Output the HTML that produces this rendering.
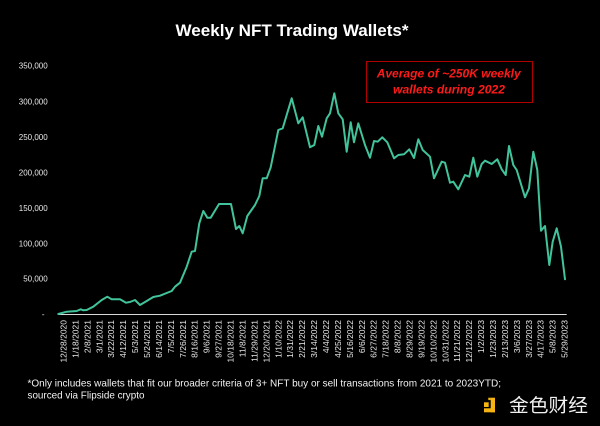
<!DOCTYPE html>
<html>
<head>
<meta charset="utf-8">
<style>
  html, body { margin:0; padding:0; background:#000; }
  body { width:600px; height:426px; overflow:hidden; }
  svg { display:block; }
  text { font-family: "Liberation Sans", "Noto Sans CJK SC", sans-serif; }
</style>
</head>
<body>
<svg width="600" height="426" viewBox="0 0 600 426" xmlns="http://www.w3.org/2000/svg">
  <rect x="0" y="0" width="600" height="426" fill="#000"/>

  <!-- Title -->
  <text x="292" y="36" fill="#fff" font-size="16.5" font-weight="bold" text-anchor="middle" textLength="233" lengthAdjust="spacingAndGlyphs">Weekly NFT Trading Wallets*</text>

  <!-- Annotation box -->
  <rect x="366.5" y="61.5" width="166" height="41" fill="none" stroke="#b00000" stroke-width="1"/>
  <text x="448.7" y="77.3" fill="#ff1a1a" font-size="12.3" font-weight="bold" font-style="italic" text-anchor="middle" textLength="144" lengthAdjust="spacingAndGlyphs">Average of ~250K weekly</text>
  <text x="449" y="93.3" fill="#ff1a1a" font-size="12.3" font-weight="bold" font-style="italic" text-anchor="middle" textLength="112" lengthAdjust="spacingAndGlyphs">wallets during 2022</text>

  <!-- Y axis labels -->
  <g fill="#e8e8e8" font-size="8" text-anchor="end">
    <text x="47.7" y="68.7">350,000</text>
    <text x="47.7" y="104.4">300,000</text>
    <text x="47.7" y="139.8">250,000</text>
    <text x="47.7" y="175.3">200,000</text>
    <text x="47.7" y="210.8">150,000</text>
    <text x="47.7" y="246.3">100,000</text>
    <text x="47.7" y="281.7">50,000</text>
    <text x="44.5" y="317">-</text>
  </g>

  <!-- X axis line -->
  <line x1="58" y1="314.5" x2="566.7" y2="314.5" stroke="#d9d9d9" stroke-width="1"/>

  <!-- Data line -->
  <polyline fill="none" stroke="#41c49b" stroke-width="2" stroke-linejoin="round" stroke-linecap="round"
    points="58.3,314 66.7,311.7 76.7,311 80.7,309.3 83.3,310.3 86.7,310 93.3,306.7 101.7,300 107.3,296.7 111.7,299.3 120,299.3 126,302.7 130,302 135,300 140,305 146.7,301 153.3,297 160,295.7 171.7,291 175,286.7 180,282.7 186.7,266.7 191.7,251.7 195,251 199.3,223.3 203.3,211 207.3,217.7 210.7,217.7 219,204 231,204 236,229 239.3,226 242.7,233.3 247.3,216 255,205 259.3,196 262.7,178.3 266.7,178.3 270.7,167.3 278.3,130 282.7,128.3 291.7,98.3 298.3,123.3 302.7,117.3 310,147.3 314.3,145 318.3,126 322,136.7 326.7,118.3 330,113.3 334.3,93.3 338.3,113.3 342.7,119.3 346.7,151.7 350.7,122.3 354,142.3 358.3,123.3 365,145 370,157.7 374,141 377.7,141.7 382.3,137.3 387.3,142.3 394,158.3 398.3,155 404,154.3 409.3,149.3 414,158 418.3,139.3 422.7,150 430,156.7 434,178.3 441.7,161.7 445,162.7 450,182.7 453.3,181.7 458.3,189.3 465,175 469.3,176.7 473.3,157.7 477.3,176.7 481.7,164 485,160.7 491.7,164 497.3,159.3 501.7,169.3 505.7,175 509,146 513.3,165 516.7,170 525,197.3 529,188.3 533.3,151.7 537.3,170 541,230.7 545,226 549.3,265 552.7,241.7 556.7,228.3 561,246.7 565,279.3"/>

  <!-- X axis labels (rotated) -->
  <g fill="#e8e8e8" font-size="8.5" text-anchor="end">
    <text transform="translate(66.5,320) rotate(-90)">12/28/2020</text>
    <text transform="translate(78.4,320) rotate(-90)">1/18/2021</text>
    <text transform="translate(90.4,320) rotate(-90)">2/8/2021</text>
    <text transform="translate(102.3,320) rotate(-90)">3/1/2021</text>
    <text transform="translate(114.2,320) rotate(-90)">3/22/2021</text>
    <text transform="translate(126.2,320) rotate(-90)">4/12/2021</text>
    <text transform="translate(138.1,320) rotate(-90)">5/3/2021</text>
    <text transform="translate(150.0,320) rotate(-90)">5/24/2021</text>
    <text transform="translate(162.0,320) rotate(-90)">6/14/2021</text>
    <text transform="translate(173.9,320) rotate(-90)">7/5/2021</text>
    <text transform="translate(185.8,320) rotate(-90)">7/26/2021</text>
    <text transform="translate(197.7,320) rotate(-90)">8/16/2021</text>
    <text transform="translate(209.7,320) rotate(-90)">9/6/2021</text>
    <text transform="translate(221.6,320) rotate(-90)">9/27/2021</text>
    <text transform="translate(233.5,320) rotate(-90)">10/18/2021</text>
    <text transform="translate(245.5,320) rotate(-90)">11/8/2021</text>
    <text transform="translate(257.4,320) rotate(-90)">11/29/2021</text>
    <text transform="translate(269.3,320) rotate(-90)">12/20/2021</text>
    <text transform="translate(281.3,320) rotate(-90)">1/10/2022</text>
    <text transform="translate(293.2,320) rotate(-90)">1/31/2022</text>
    <text transform="translate(305.1,320) rotate(-90)">2/21/2022</text>
    <text transform="translate(317.1,320) rotate(-90)">3/14/2022</text>
    <text transform="translate(329.0,320) rotate(-90)">4/4/2022</text>
    <text transform="translate(340.9,320) rotate(-90)">4/25/2022</text>
    <text transform="translate(352.9,320) rotate(-90)">5/16/2022</text>
    <text transform="translate(364.8,320) rotate(-90)">6/6/2022</text>
    <text transform="translate(376.7,320) rotate(-90)">6/27/2022</text>
    <text transform="translate(388.6,320) rotate(-90)">7/18/2022</text>
    <text transform="translate(400.6,320) rotate(-90)">8/8/2022</text>
    <text transform="translate(412.5,320) rotate(-90)">8/29/2022</text>
    <text transform="translate(424.4,320) rotate(-90)">9/19/2022</text>
    <text transform="translate(436.4,320) rotate(-90)">10/10/2022</text>
    <text transform="translate(448.3,320) rotate(-90)">10/31/2022</text>
    <text transform="translate(460.2,320) rotate(-90)">11/21/2022</text>
    <text transform="translate(472.2,320) rotate(-90)">12/12/2022</text>
    <text transform="translate(484.1,320) rotate(-90)">1/2/2023</text>
    <text transform="translate(496.0,320) rotate(-90)">1/23/2023</text>
    <text transform="translate(508.0,320) rotate(-90)">2/13/2023</text>
    <text transform="translate(519.9,320) rotate(-90)">3/6/2023</text>
    <text transform="translate(531.8,320) rotate(-90)">3/27/2023</text>
    <text transform="translate(543.7,320) rotate(-90)">4/17/2023</text>
    <text transform="translate(555.7,320) rotate(-90)">5/8/2023</text>
    <text transform="translate(567.6,320) rotate(-90)">5/29/2023</text>
  </g>

  <!-- Footnote -->
  <text x="27.5" y="386.5" fill="#f2f2f2" font-size="10.5" textLength="473.5" lengthAdjust="spacingAndGlyphs">*Only includes wallets that fit our broader criteria of 3+ NFT buy or sell transactions from 2021 to 2023YTD;</text>
  <text x="27.5" y="398.5" fill="#f2f2f2" font-size="10.5" textLength="117" lengthAdjust="spacingAndGlyphs">sourced via Flipside crypto</text>

  <!-- Logo -->
  <g fill="#f5b412">
    <rect x="484" y="402.3" width="4.7" height="4.7"/>
    <rect x="490.7" y="397.7" width="4.3" height="14.6"/>
    <rect x="488.3" y="397.7" width="2.5" height="2.4"/>
    <rect x="484" y="408.3" width="11" height="4"/>
  </g>
  <text x="509" y="412" fill="#f2f2f2" font-size="18.5" font-family="'Noto Sans CJK SC', sans-serif" textLength="79" lengthAdjust="spacingAndGlyphs">金色财经</text>
</svg>
</body>
</html>
